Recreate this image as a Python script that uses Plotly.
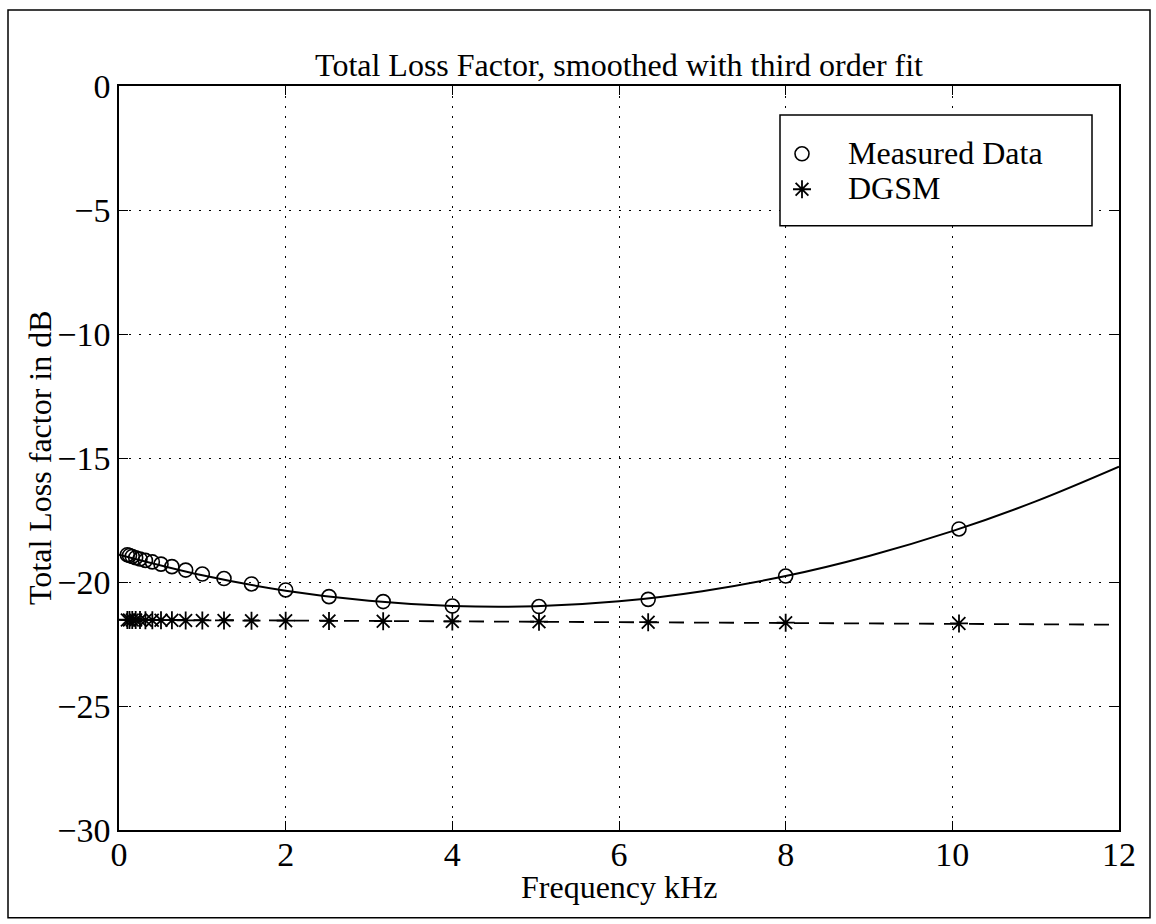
import plotly.graph_objects as go

# third-octave band centre frequencies, kHz
freq = [0.1, 0.126, 0.159, 0.2, 0.252, 0.317, 0.4, 0.504, 0.635, 0.8,
        1.0, 1.26, 1.59, 2.0, 2.52, 3.17, 4.0, 5.04, 6.35, 8.0, 10.08]
measured = [-18.90, -18.93, -18.97, -19.02, -19.07, -19.13, -19.19, -19.28,
            -19.38, -19.52, -19.68, -19.86, -20.08, -20.32, -20.59, -20.79,
            -20.97, -20.99, -20.70, -19.76, -17.86]
dgsm = [-21.53, -21.53, -21.53, -21.53, -21.53, -21.54, -21.54, -21.54,
        -21.54, -21.55, -21.55, -21.55, -21.56, -21.56, -21.57, -21.58,
        -21.59, -21.60, -21.62, -21.64, -21.67]

# smoothed (third order fit) curve
fit_f = [0, 1, 2, 3, 4, 5, 6, 7, 8, 9, 10, 11, 12]
fit_measured = [-18.9, -19.73, -20.35, -20.76, -20.97, -20.98, -20.78,
                -20.37, -19.76, -18.95, -17.95, -16.75, -15.35]
fit_dgsm_f = [0, 6, 12]
fit_dgsm = [-21.52, -21.61, -21.72]

font = "Liberation Serif, Times New Roman, serif"
big = '<span style="font-size:32px">%s</span>'

fig = go.Figure()
fig.add_trace(go.Scatter(
    x=fit_f, y=fit_measured, mode='lines', line=dict(color='black', width=2, shape='spline'),
    showlegend=False, hoverinfo='skip'))
fig.add_trace(go.Scatter(
    x=fit_dgsm_f, y=fit_dgsm, mode='lines',
    line=dict(color='black', width=1.8, dash='15px,10px'),
    showlegend=False, hoverinfo='skip'))
fig.add_trace(go.Scatter(
    x=freq, y=measured, mode='markers', name=big % 'Measured Data',
    marker=dict(symbol='circle-open', size=14, color='black', line=dict(width=1.6, color='black'))))
fig.add_trace(go.Scatter(
    x=freq, y=dgsm, mode='markers', name=big % 'DGSM',
    marker=dict(symbol='asterisk-open', size=15, color='black', line=dict(width=1.8, color='black'))))

axis_common = dict(
    showline=True, linecolor='black', linewidth=1.5, mirror='ticks',
    ticks='inside', ticklen=9, tickwidth=1.2, tickcolor='black',
    showgrid=True, gridcolor='black', gridwidth=1, griddash='2px,8px',
    zeroline=False, tickfont=dict(family=font, size=34, color='black'),
)
fig.update_xaxes(range=[0, 12], dtick=2, tick0=0, ticklabelstandoff=-7, **axis_common)
fig.update_yaxes(range=[-30, 0], dtick=5, tick0=0, **axis_common)

fig.update_layout(
    width=1156, height=924,
    margin=dict(l=119, r=37, t=86, b=94),
    paper_bgcolor='white', plot_bgcolor='white',
    title=dict(text='Total Loss Factor, smoothed with third order fit',
               font=dict(family=font, size=32, color='black'),
               x=0.5355, xanchor='center', y=1 - 65 / 924, yanchor='middle'),
    legend=dict(x=0.637, y=0.9395, xanchor='left', yanchor='top',
                bgcolor='rgba(0,0,0,0)', borderwidth=0,
                font=dict(family=font, size=25, color='black'),
                itemwidth=82, tracegroupgap=0),
    annotations=[
        dict(text='Frequency kHz', xref='paper', yref='paper', x=0.5, y=(830 - 887) / 744,
             xanchor='center', yanchor='middle', showarrow=False,
             font=dict(family=font, size=32, color='black')),
        dict(text='Total Loss factor in dB', xref='paper', yref='paper', x=(40 - 119) / 1000, y=0.5,
             xanchor='center', yanchor='middle', showarrow=False, textangle=-90,
             font=dict(family=font, size=32, color='black')),
    ],
    shapes=[
        # legend box
        dict(type='rect', xref='paper', yref='paper', x0=0.661, x1=0.973, y0=0.812, y1=0.961,
             line=dict(color='black', width=1.5), fillcolor='white', layer='above'),
        # outer frame
        dict(type='rect', xref='paper', yref='paper', x0=-0.111, x1=1.031, y0=-0.118, y1=1.102,
             line=dict(color='black', width=1.5), fillcolor='rgba(0,0,0,0)', layer='above'),
    ],
)

fig.write_html("out.html", config={'displayModeBar': False},
               post_script="document.body.style.margin='0';")
